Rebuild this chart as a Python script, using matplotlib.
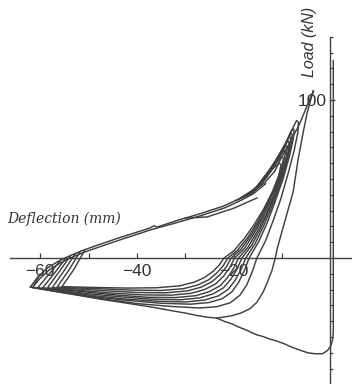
import matplotlib
matplotlib.use("Agg")
import matplotlib.pyplot as plt

## load-deflection record, deflection in mm, load in kN

# first run: straight elastic line at the origin, then the long unloading curve out to the tip
initial_x = [0.6, 0.6, 0.5, 0.1, -0.6, -1.6, -3.0, -4.6, -6.2, -8.0, -9.6, -11.0, -12.6, -14.0, -15.2,
             -16.4, -17.5, -19.0, -20.4, -21.8, -23.5, -25.5, -27.5, -30.0, -33.0, -37.0, -42.0,
             -47.6, -52.0, -57.0, -61.8]
initial_y = [125, -45, -51, -55.5, -58.5, -60.5, -60.6, -60.0, -58.4, -56.4, -54.2, -52.6, -51.2,
             -49.6, -48.6, -47.0, -45.4, -43.6, -41.6, -40.2, -38.0, -37.4, -36.4, -34.8, -33.2,
             -31.0, -28.6, -26.0, -23.6, -21.0, -18.4]

# reloading envelope from the tip (drawn twice, the traces sit on top of each other)
env1_x = [-62.0, -60.5, -58.6, -56.5, -54.5, -51.5, -48.3, -43.5, -37.3, -36.5, -35.8, -32.0,
          -27.0, -22.0, -18.5, -16.0, -13.5, -11.5]
env1_y = [-18.2, -12.0, -6.5, -2.5, 0.6, 4.5, 8.0, 13.0, 19.0, 20.4, 19.6, 23.5,
          28.0, 33.0, 38.0, 42.0, 48.0, 55.0]
env2_x = [-61.6, -60.0, -58.1, -56.0, -54.0, -51.0, -47.8, -43.0, -37.0, -31.8, -26.8, -21.8,
          -18.3, -15.8, -13.4]
env2_y = [-18.6, -12.8, -7.4, -3.4, -0.3, 3.6, 7.0, 12.0, 18.0, 22.4, 26.8, 31.8,
          36.8, 41.0, 47.0]

# branch that runs a little under the envelope
side_x = [-30.0, -25.5, -20.0, -15.2]
side_y = [25.3, 26.0, 31.5, 38.0]

# biggest cycle, up to the 100 kN peak and back down onto the first curve
c1_x = [-11.5, -10.4, -8.6, -6.5, -5.0, -3.5, -4.0, -4.8, -5.6, -6.7, -7.7, -8.8, -10.0, -11.0,
        -11.4, -12.1, -13.0, -13.9, -15.2, -16.6, -18.5, -20.5, -23.5]
c1_y = [55.0, 62.0, 72.0, 84.0, 95.0, 106.0, 101.0, 92.0, 80.0, 62.0, 42.0, 30.0, 17.0, 6.0,
        0.0, -8.0, -15.0, -21.5, -28.0, -32.0, -34.8, -36.6, -38.0]

# repeated cycles
c2_x = [-14.8, -13.2, -11.4, -9.8, -8.5, -7.5, -7.0, -6.6, -6.7, -7.5, -8.7, -10.2, -11.8, -13.4,
        -15.2, -16.2, -17.3, -18.7, -20.7, -23.5, -27.0, -33.0, -40.0, -47.0, -53.0, -58.0, -62.0]
c2_y = [45.0, 51.0, 59.0, 67.5, 77.0, 84.0, 87.0, 86.0, 80.0, 68.0, 54.0, 38.0, 24.0, 11.0,
        0.0, -9.0, -17.0, -23.5, -28.3, -30.8, -31.6, -30.6, -28.8, -25.8, -23.0, -20.6, -18.4]

c3_x = [-19.5, -16.1, -14.4, -12.8, -11.4, -10.8, -10.5, -10.2, -10.7, -12.0, -13.8, -15.8, -17.9,
        -20.0, -22.0, -23.0, -24.3, -26.0, -28.2, -31.2, -36.0, -42.0, -49.0, -55.5, -53.1, -50.7]
c3_y = [36.5, 41.0, 48.0, 53.5, 58.0, 59.5, 60.0, 59.0, 52.0, 42.0, 31.0, 21.0, 12.0,
        4.5, 0.0, -4.5, -8.5, -12.3, -15.3, -17.6, -18.8, -19.0, -18.6, -18.1, -7.5, 5.3]

c4_x = [-18.9, -15.8, -14.0, -12.4, -11.0, -10.3, -10.0, -9.7, -10.2, -11.4, -13.1, -15.0, -17.1,
        -19.2, -21.2, -22.2, -23.5, -25.2, -27.4, -30.4, -35.0, -41.0, -48.0, -53.0, -56.5, -54.1,
        -51.7]
c4_y = [37.5, 43.0, 50.0, 56.0, 61.0, 63.3, 64.0, 63.0, 56.0, 45.0, 34.0, 23.0, 13.0,
        5.0, 0.0, -5.0, -9.5, -13.8, -17.0, -19.4, -20.5, -20.3, -19.4, -18.8, -18.4, -7.8, 4.2]

c5_x = [-18.3, -15.5, -13.6, -12.0, -10.6, -9.9, -9.6, -9.3, -9.7, -10.9, -12.6, -14.5, -16.5,
        -18.5, -20.5, -21.5, -22.8, -24.5, -26.7, -29.6, -34.0, -40.0, -47.0, -53.0, -57.5, -55.1,
        -52.7]
c5_y = [38.5, 44.0, 51.0, 58.0, 64.0, 67.0, 68.0, 67.0, 60.0, 48.0, 36.0, 24.0, 14.0,
        5.5, 0.0, -5.5, -10.5, -15.0, -18.4, -20.8, -22.0, -21.8, -20.6, -19.4, -18.7, -8.2, 2.9]

c6_x = [-17.7, -15.2, -13.3, -11.6, -10.2, -9.5, -9.2, -8.9, -9.2, -10.4, -12.0, -13.9, -15.9,
        -17.8, -19.8, -20.8, -22.1, -23.7, -25.9, -28.8, -33.0, -39.0, -46.0, -53.0, -58.5, -56.1,
        -53.7]
c6_y = [39.3, 45.0, 53.0, 60.0, 67.0, 70.0, 71.0, 70.0, 63.0, 51.0, 38.0, 26.0, 15.0,
        6.0, 0.0, -6.0, -11.5, -16.3, -19.8, -22.3, -23.5, -23.3, -22.0, -20.2, -18.9, -8.8, 1.6]

c7_x = [-17.2, -14.9, -13.0, -11.3, -9.9, -9.2, -8.8, -8.5, -8.8, -9.9, -11.4, -13.2, -15.1,
        -17.0, -19.0, -20.0, -21.3, -22.8, -25.0, -27.8, -32.0, -38.0, -45.0, -52.0, -59.5, -57.1,
        -54.7]
c7_y = [40.0, 46.0, 54.0, 62.0, 69.0, 72.5, 74.0, 73.0, 66.0, 54.0, 41.0, 28.0, 17.0,
        7.0, 0.0, -6.5, -12.5, -17.5, -21.2, -23.8, -25.0, -24.8, -23.2, -21.0, -18.9, -9.8, 0.0]

c8_x = [-16.6, -14.6, -12.6, -11.0, -9.6, -8.9, -8.5, -8.2, -8.5, -9.5, -10.9, -12.6, -14.4,
        -16.3, -18.3, -19.3, -20.6, -22.1, -24.2, -27.0, -31.0, -37.0, -44.0, -51.0, -56.5, -60.5,
        -58.1, -55.7]
c8_y = [41.0, 47.0, 55.0, 63.0, 71.0, 75.0, 77.0, 76.0, 69.0, 57.0, 44.0, 31.0, 19.0,
        8.0, 0.0, -7.0, -13.5, -18.8, -22.6, -25.2, -26.4, -26.0, -24.4, -22.2, -20.2, -18.8,
        -10.0, -1.2]

c9_x = [-16.0, -14.3, -12.3, -10.7, -9.3, -8.6, -8.2, -7.9, -8.1, -9.0, -10.3, -11.9, -13.7,
        -15.6, -17.5, -18.5, -19.8, -21.2, -23.2, -26.0, -30.0, -36.0, -43.0, -50.0, -56.0, -61.5,
        -60.8, -60.0]
c9_y = [42.0, 48.0, 56.0, 64.0, 72.0, 77.0, 79.0, 78.0, 72.0, 61.0, 47.0, 34.0, 21.0,
        9.0, 0.0, -7.5, -14.5, -20.0, -24.0, -26.6, -27.8, -27.3, -25.8, -23.4, -20.8, -18.6,
        -14.5, -10.3]

c10_x = [-15.4, -13.8, -12.0, -10.4, -9.0, -8.2, -7.8, -7.5, -7.7, -8.5, -9.8, -11.4, -13.1,
         -14.9, -16.8, -17.8, -19.0, -20.4, -22.4, -25.2, -29.0, -35.0, -42.0, -49.0, -55.0,
         -59.0, -62.0]
c10_y = [43.5, 49.0, 57.0, 65.0, 74.0, 80.0, 82.0, 81.0, 75.0, 64.0, 50.0, 36.0, 22.0,
         10.0, 0.0, -8.0, -15.5, -21.5, -25.8, -28.2, -29.2, -28.6, -26.8, -24.4, -21.6,
         -19.8, -18.3]

cycles = [(c1_x, c1_y), (c2_x, c2_y), (c3_x, c3_y), (c4_x, c4_y), (c5_x, c5_y),
          (c6_x, c6_y), (c7_x, c7_y), (c8_x, c8_y), (c9_x, c9_y), (c10_x, c10_y)]

x_major = [-60, -40, -20]
x_minor = [-50, -30, -10]
y_major = [100]
y_minor = [-70, -60, -50, -40, -30, -20, -10, 10, 20, 30, 40, 50, 60, 70, 80, 90, 110, 120, 130, 140]

ink = "#404040"

fig = plt.figure(figsize=(3.52, 3.84), dpi=100)
ax = fig.add_axes([0, 0, 1, 1])
ax.set_xlim(-68.3, 4.46)
ax.set_ylim(-79.7, 163.3)

## all the traces on top of the tick labels like the old plotter did
lw = 1.05
ax.plot(initial_x, initial_y, color=ink, lw=lw, zorder=3)
ax.plot(env1_x, env1_y, color=ink, lw=lw, zorder=3)
ax.plot(env2_x, env2_y, color=ink, lw=lw, zorder=3)
ax.plot(side_x, side_y, color=ink, lw=lw, zorder=3)
for cx, cy in cycles:
    ax.plot(cx, cy, color=ink, lw=lw, zorder=3)

## axes through the origin
for s in ["top", "right"]:
    ax.spines[s].set_visible(False)
ax.spines["left"].set_position(("data", 0))
ax.spines["bottom"].set_position(("data", 0))
ax.spines["left"].set_bounds(-80, 140)
ax.spines["bottom"].set_bounds(-66.2, 4.5)
for s in ["left", "bottom"]:
    ax.spines[s].set_color(ink)
    ax.spines[s].set_linewidth(1.0)

ax.set_xticks(x_major)
ax.set_xticks(x_minor, minor=True)
ax.set_yticks(y_major)
ax.set_yticks(y_minor, minor=True)
ax.set_xticklabels(["\u221260", "\u221240", "\u221220"])
ax.set_yticklabels(["100"])
ax.tick_params(which="both", direction="in", color=ink, width=0.9, length=3.5)
ax.tick_params(axis="y", which="minor", length=2.5)
ax.tick_params(axis="x", pad=4.5, labelsize=12.5, labelcolor="#333333")
ax.tick_params(axis="y", pad=2.5, labelsize=12.5, labelcolor="#333333")
for lab in ax.get_xticklabels() + ax.get_yticklabels():
    lab.set_family("Liberation Sans")

ax.text(-55.0, 24.7, "Deflection (mm)", fontsize=10, style="italic", family="DejaVu Serif",
        color="#333333", ha="center", va="center")
ax.text(-4.3, 136.5, "Load (kN)", fontsize=11.5, style="italic", family="Liberation Sans",
        color="#333333", ha="center", va="center", rotation=90)

fig.savefig("out.png", dpi=100)
